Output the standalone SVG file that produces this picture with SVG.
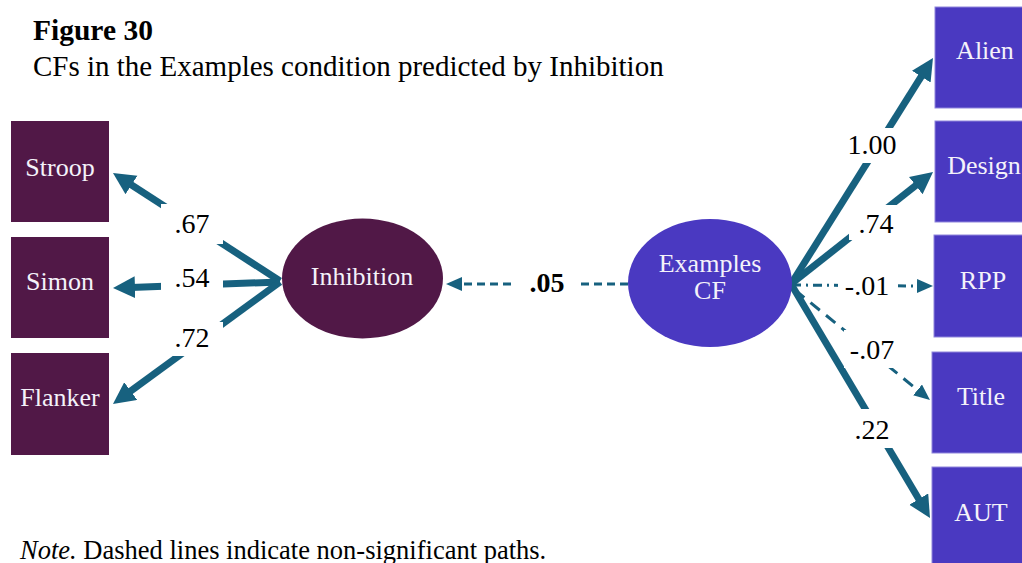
<svg xmlns="http://www.w3.org/2000/svg" width="1022" height="563" viewBox="0 0 1022 563">
  <style>
    .serif { font-family: "Liberation Serif", "Times New Roman", serif; }
    .node-text { font-family: "Liberation Serif", "Times New Roman", serif; font-size: 26px; fill: #f4f2fa; text-anchor: middle; }
    .obs-a { fill: #511847; }
    .obs-b { fill: #4a39c1; stroke: #8f86dc; stroke-width: 1; }
    .lat-a { fill: #511847; }
    .lat-b { fill: #4a39c1; }
    .sig { fill: none; stroke: #17617f; stroke-width: 7; marker-end: url(#headBig); }
    .ns { fill: none; stroke: #17617f; stroke-width: 3; marker-end: url(#headSmall); }
    .lbl-bg { fill: #ffffff; }
    .lbl { font-family: "Liberation Serif", "Times New Roman", serif; font-size: 28px; fill: #000000; text-anchor: middle; }
  </style>
  <defs>
    <marker id="headBig" markerUnits="userSpaceOnUse" markerWidth="24" markerHeight="24" refX="4" refY="11" orient="auto">
      <path d="M0,0 L22,11 L0,22 Z" fill="#17617f"/>
    </marker>
    <marker id="headSmall" markerUnits="userSpaceOnUse" markerWidth="18" markerHeight="16" refX="2" refY="7" orient="auto">
      <path d="M0,0 L16,7 L0,14 Z" fill="#17617f"/>
    </marker>
  </defs>

  <rect width="1022" height="563" fill="#ffffff"/>

  <!-- caption -->
  <g id="caption" class="serif">
    <text x="33" y="40" font-size="29.5" font-weight="bold">Figure 30</text>
    <text x="33" y="76" font-size="29">CFs in the Examples condition predicted by Inhibition</text>
  </g>

  <!-- paths -->
  <g id="connectors">
    <line class="sig" x1="280" y1="281" x2="128.1" y2="182.8"/>
    <line class="sig" x1="280" y1="282" x2="131" y2="287.4"/>
    <line class="sig" x1="280" y1="282" x2="127.5" y2="393.4"/>
    <line class="ns" x1="628" y1="284" x2="460" y2="284" stroke-width="2.2" stroke-dasharray="8,5"/>
    <line class="sig" x1="791" y1="284" x2="923.4" y2="73.2"/>
    <line class="sig" x1="791" y1="284" x2="918.9" y2="183.1"/>
    <line class="ns" x1="792" y1="285" x2="919" y2="286" stroke-width="2.6" stroke-dasharray="9,5,2,5"/>
    <line class="ns" x1="795" y1="290" x2="919.1" y2="391.2" stroke-width="3.5" stroke-dasharray="12,8"/>
    <line class="sig" x1="791" y1="284" x2="920.8" y2="502.5"/>
  </g>

  <!-- path coefficients -->
  <g id="coefficients">
    <rect class="lbl-bg" x="161" y="204" width="62" height="40"/>
    <text class="lbl" x="192" y="233">.67</text>
    <rect class="lbl-bg" x="161" y="262" width="62" height="34"/>
    <text class="lbl" x="192" y="287">.54</text>
    <rect class="lbl-bg" x="161" y="322" width="62" height="34"/>
    <text class="lbl" x="192" y="347">.72</text>
    <rect class="lbl-bg" x="515" y="270" width="63" height="28"/>
    <text class="lbl" x="547" y="292" font-weight="bold">.05</text>
    <rect class="lbl-bg" x="843" y="128" width="59" height="35"/>
    <text class="lbl" x="872" y="154">1.00</text>
    <rect class="lbl-bg" x="849" y="205" width="52" height="35"/>
    <text class="lbl" x="876" y="233">.74</text>
    <rect class="lbl-bg" x="838" y="272" width="60" height="28"/>
    <text class="lbl" x="867" y="295">-.01</text>
    <rect class="lbl-bg" x="844" y="330" width="56" height="38"/>
    <text class="lbl" x="872" y="359">-.07</text>
    <rect class="lbl-bg" x="848" y="409" width="49" height="39"/>
    <text class="lbl" x="872" y="439">.22</text>
  </g>

  <!-- inhibition indicators -->
  <g id="stroop">
    <rect class="obs-a" x="11" y="121" width="98" height="101"/>
    <text class="node-text" x="60" y="176">Stroop</text>
  </g>
  <g id="simon">
    <rect class="obs-a" x="11" y="237" width="98" height="101"/>
    <text class="node-text" x="60" y="290">Simon</text>
  </g>
  <g id="flanker">
    <rect class="obs-a" x="11" y="353" width="98" height="102"/>
    <text class="node-text" x="60" y="406">Flanker</text>
  </g>

  <!-- latent factors -->
  <g id="inhibition">
    <ellipse class="lat-a" cx="362.5" cy="278.5" rx="80.5" ry="60"/>
    <text class="node-text" x="362" y="285">Inhibition</text>
  </g>
  <g id="examples-cf">
    <ellipse class="lat-b" cx="710" cy="283" rx="82" ry="64"/>
    <text class="node-text" x="710" y="272" font-size="22">Examples</text>
    <text class="node-text" x="710" y="299" font-size="22">CF</text>
  </g>

  <!-- CF indicators -->
  <g id="alien">
    <rect class="obs-b" x="935" y="7" width="100" height="101"/>
    <text class="node-text" x="985" y="59">Alien</text>
  </g>
  <g id="design">
    <rect class="obs-b" x="935" y="121" width="100" height="101"/>
    <text class="node-text" x="984" y="174">Design</text>
  </g>
  <g id="rpp">
    <rect class="obs-b" x="934" y="235" width="100" height="102"/>
    <text class="node-text" x="983" y="289">RPP</text>
  </g>
  <g id="title">
    <rect class="obs-b" x="932" y="352" width="100" height="101"/>
    <text class="node-text" x="981" y="405">Title</text>
  </g>
  <g id="aut">
    <rect class="obs-b" x="932" y="467" width="100" height="110"/>
    <text class="node-text" x="981" y="521">AUT</text>
  </g>

  <!-- note -->
  <g id="note" class="serif" font-size="26.5">
    <text x="20" y="559"><tspan font-style="italic">Note.</tspan> Dashed lines indicate non-significant paths.</text>
  </g>
</svg>
